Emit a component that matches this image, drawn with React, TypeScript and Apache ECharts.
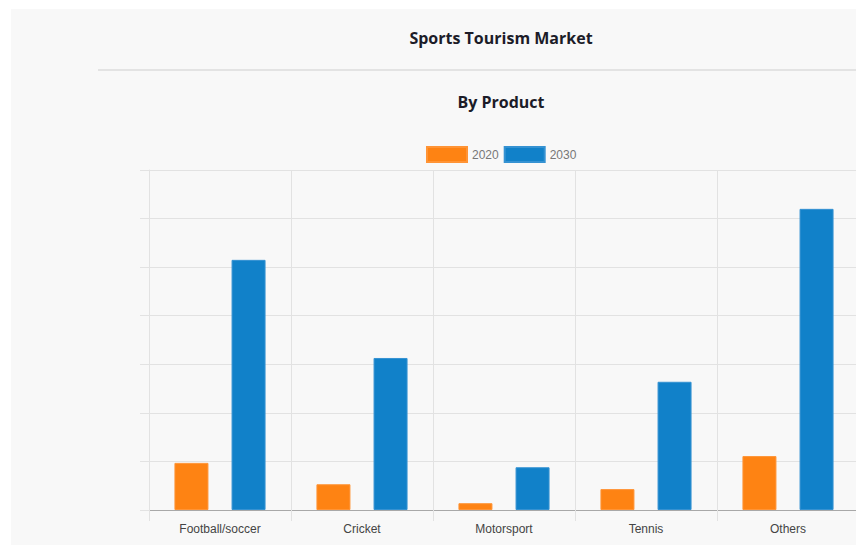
import React, { useEffect, useRef } from "react";
import * as echarts from "echarts";

const categories = ["Football/soccer", "Cricket", "Motorsport", "Tennis", "Others"];
const values2020 = [9.7, 5.3, 1.4, 4.3, 11.1];
const values2030 = [51.5, 31.3, 8.8, 26.4, 62.0];
const seriesNames = ["2020", "2030"];
const mainTitle = "Sports Tourism Market";
const subTitle = "By Product";

export default function App() {
  const ref = useRef<HTMLDivElement>(null);
  useEffect(() => {
    if (!ref.current) return;
    const chart = echarts.init(ref.current, undefined, { renderer: "svg" });
    const gridColor = "#e2e2e2";
    chart.setOption({
      animation: false,
      backgroundColor: "#ffffff",
      graphic: [
        { type: "rect", shape: { x: 11, y: 9, width: 900, height: 536 }, style: { fill: "#f8f8f8" }, z: -10 },
        { type: "line", shape: { x1: 98, y1: 70, x2: 900, y2: 70 }, style: { stroke: "#e3e3e3", lineWidth: 2 }, z: -9 },
        {
          type: "text", x: 501, y: 38,
          style: { text: mainTitle, fill: "#1c1c28", font: "bold 16px 'Open Sans', sans-serif", textAlign: "center", textVerticalAlign: "middle" },
        },
        {
          type: "text", x: 501, y: 102,
          style: { text: subTitle, fill: "#1c1c28", font: "bold 16px 'Open Sans', sans-serif", textAlign: "center", textVerticalAlign: "middle" },
        },
      ],
      legend: {
        data: seriesNames,
        left: 426,
        top: 146,
        padding: 0,
        itemWidth: 40,
        itemHeight: 15,
        itemGap: 5,
        icon: "rect",
        textStyle: { color: "#777", fontSize: 12, fontFamily: "'Liberation Sans', Arial, sans-serif" },
      },
      grid: { left: 149, top: 170, width: 710, height: 340, containLabel: false },
      xAxis: {
        type: "category",
        data: categories,
        axisLine: { lineStyle: { color: "#a8a8a8", width: 1 } },
        axisTick: { show: true, length: 11, lineStyle: { color: gridColor } },
        splitLine: { show: true, lineStyle: { color: gridColor } },
        axisLabel: { color: "#444", fontSize: 12, fontFamily: "'Liberation Sans', Arial, sans-serif", margin: 13 },
      },
      yAxis: {
        type: "value",
        min: 0,
        max: 70,
        interval: 10,
        axisLabel: { show: false },
        axisLine: { show: true, lineStyle: { color: gridColor } },
        axisTick: { show: true, length: 9, lineStyle: { color: gridColor } },
        splitLine: { show: true, lineStyle: { color: gridColor } },
      },
      series: [
        {
          name: seriesNames[0], type: "bar", data: values2020, barWidth: 34, barGap: "68%",
          itemStyle: { color: "#fe8313", borderColor: "#ff9436", borderWidth: 1 },
        },
        {
          name: seriesNames[1], type: "bar", data: values2030, barWidth: 34, barGap: "68%",
          itemStyle: { color: "#1181c9", borderColor: "#3592d2", borderWidth: 1 },
        },
      ],
    });
    return () => chart.dispose();
  }, []);
  return (
    <div style={{ position: "fixed", left: 0, top: 0, width: 856, height: 545, overflow: "hidden" }}>
      <div ref={ref} style={{ width: 900, height: 545 }} />
    </div>
  );
}
